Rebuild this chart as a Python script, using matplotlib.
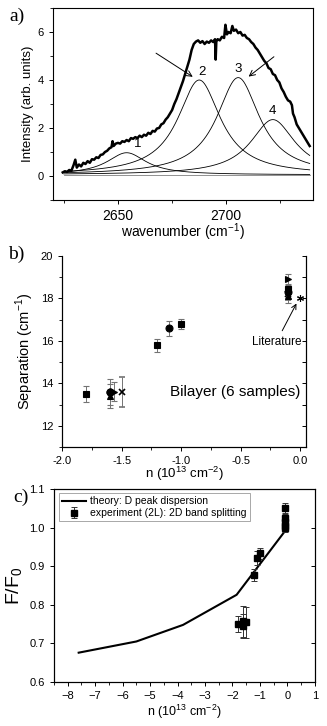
import numpy as np
import matplotlib.pyplot as plt
from matplotlib.ticker import MultipleLocator

plt.rcParams['font.family'] = ['Liberation Sans', 'DejaVu Sans']
plt.rcParams['mathtext.fontset'] = 'custom'
plt.rcParams['mathtext.rm'] = 'Liberation Sans'

wn_spec = [2624.5, 2625.5, 2626.5, 2627.5, 2628.5, 2629.5, 2630.3, 2631.0, 2632.0, 2633.0,
           2634.0, 2635.0, 2636.0, 2637.0, 2638.0, 2639.0, 2640.0, 2641.0, 2642.0, 2643.0,
           2644.0, 2645.0, 2646.0, 2647.0, 2647.5, 2648.0, 2649.0, 2650.0, 2651.0, 2652.0,
           2653.0, 2654.0, 2655.0, 2656.0, 2657.0, 2658.0, 2659.0, 2660.0, 2661.0, 2662.0,
           2663.0, 2664.0, 2665.0, 2666.0, 2667.0, 2668.0, 2669.0, 2670.0, 2671.0, 2672.0,
           2673.0, 2674.0, 2675.0, 2676.0, 2677.0, 2678.0, 2679.0, 2680.0, 2681.0, 2682.0,
           2683.0, 2684.0, 2685.0, 2686.0, 2687.0, 2688.0, 2689.0, 2690.0, 2691.0, 2692.0,
           2693.0, 2694.0, 2694.8, 2695.1, 2695.4, 2696.0, 2697.0, 2698.0, 2699.0, 2699.6,
           2700.3, 2701.0, 2702.0, 2702.8, 2703.5, 2704.5, 2705.5, 2706.5, 2707.5, 2708.5,
           2709.5, 2710.5, 2711.5, 2712.5, 2713.5, 2714.5, 2715.5, 2716.5, 2717.5, 2718.5,
           2719.5, 2720.5, 2721.5, 2722.5, 2723.5, 2724.5, 2725.5, 2726.5, 2727.5, 2728.5,
           2729.5, 2730.3, 2730.8, 2731.5, 2732.5, 2733.5, 2734.5, 2735.5, 2736.5, 2737.5,
           2738.5]
int_spec = [0.15, 0.20, 0.17, 0.25, 0.22, 0.45, 0.68, 0.35, 0.48, 0.40,
            0.55, 0.50, 0.62, 0.55, 0.70, 0.68, 0.78, 0.75, 0.88, 0.90,
            1.00, 1.05, 1.15, 1.20, 1.45, 1.25, 1.35, 1.38, 1.35, 1.45,
            1.42, 1.50, 1.45, 1.58, 1.55, 1.62, 1.58, 1.68, 1.62, 1.72,
            1.68, 1.80, 1.75, 1.88, 1.85, 1.98, 2.00, 2.15, 2.20, 2.35,
            2.45, 2.60, 2.75, 3.00, 3.20, 3.45, 3.70, 3.95, 4.25, 4.55,
            4.85, 5.25, 5.50, 5.60, 5.65, 5.55, 5.62, 5.50, 5.60, 5.55,
            5.65, 5.58, 5.70, 4.85, 5.60, 5.70, 5.65, 5.80, 5.75, 6.30,
            5.90, 6.00, 5.95, 6.25, 6.05, 6.10, 5.95, 6.00, 5.85, 5.88,
            5.75, 5.70, 5.58, 5.50, 5.35, 5.25, 5.10, 4.95, 4.80, 4.70,
            4.50, 4.45, 4.25, 4.20, 4.00, 3.90, 3.65, 3.50, 3.30, 3.15,
            3.10, 2.95, 2.60, 2.45, 2.15, 2.00, 1.85, 1.70, 1.55, 1.40,
            1.25]

# fitted Lorentzian components: centre, height, half width
peak_centre = [2654.0, 2687.5, 2705.5, 2721.5]
peak_height = [0.92, 3.95, 4.05, 2.30]
peak_hwhm = [11.0, 12.0, 12.0, 12.5]
peak_labels = ['1', '2', '3', '4']
fit_offset = 0.05

# --- panel b: 2D band splitting vs doping ---
sep_n = {
    's': [-1.8, -1.2, -1.0, -0.1],
    'o': [-1.6, -1.1, -0.1],
    '^': [-1.6, -0.1],
    '>': [-1.56, -0.1],
    'x': [-1.5, -0.1],
}
sep_val = {
    's': [13.5, 15.8, 16.8, 18.45],
    'o': [13.6, 16.6, 18.3],
    '^': [13.4, 18.1],
    '>': [13.6, 18.9],
    'x': [13.6, 18.2],
}
sep_err = {
    's': [0.37, 0.3, 0.25, 0.25],
    'o': [0.62, 0.35, 0.3],
    '^': [0.55, 0.3],
    '>': [0.45, 0.25],
    'x': [0.7, 0.25],
}
lit_n, lit_sep = 0.0, 18.0

# --- panel c: normalised splitting ---
theory_n = [-7.6, -5.5, -3.8, -1.85, -0.1]
theory_f = [0.676, 0.705, 0.748, 0.826, 0.99]
exp_n = [-1.8, -1.6, -1.6, -1.5, -1.2, -1.1, -1.0, -0.1, -0.1, -0.1, -0.1, -0.1]
exp_f = [0.750, 0.745, 0.757, 0.755, 0.877, 0.922, 0.933, 1.050, 1.025, 1.015, 1.005, 1.000]
exp_err = [0.020, 0.030, 0.040, 0.040, 0.015, 0.018, 0.015, 0.015, 0.012, 0.012, 0.012, 0.012]

fig = plt.figure(figsize=(3.27, 7.26), dpi=100)
ax1 = fig.add_axes([0.162, 0.7245, 0.795, 0.2645])
ax2 = fig.add_axes([0.190, 0.3843, 0.746, 0.263])
ax3 = fig.add_axes([0.165, 0.0606, 0.798, 0.2658])

for ax in (ax1, ax2, ax3):
    ax.tick_params(labelsize=8, direction='out', length=3, width=0.7)
    ax.tick_params(which='minor', direction='out', length=2, width=0.6)
    for sp in ax.spines.values():
        sp.set_linewidth(0.8)

# panel a
wgrid = np.linspace(2625, 2738.5, 400)
for c, h, g in zip(peak_centre, peak_height, peak_hwhm):
    ax1.plot(wgrid, fit_offset + h / (1 + ((wgrid - c) / g) ** 2), color='k', lw=0.6)
ax1.plot(wgrid, np.full_like(wgrid, fit_offset), color='0.5', lw=0.6)
ax1.plot(wn_spec, int_spec, color='k', lw=1.8)
for c, h, lab in zip(peak_centre, peak_height, peak_labels):
    dx = 5 if lab == '1' else (1.5 if lab == '2' else 0)
    ax1.text(c + dx, fit_offset + h + 0.1, lab, ha='center', va='bottom', fontsize=9.5)
ax1.annotate('', xy=(2685.6, 4.07), xytext=(2666.5, 5.18),
             arrowprops=dict(arrowstyle='->', color='k', lw=0.7))
ax1.annotate('', xy=(2709.3, 4.07), xytext=(2723.0, 5.04),
             arrowprops=dict(arrowstyle='->', color='k', lw=0.7))
ax1.set_xlim(2620, 2740)
ax1.set_ylim(-1, 7)
ax1.xaxis.set_major_locator(MultipleLocator(50))
ax1.xaxis.set_minor_locator(MultipleLocator(25))
ax1.yaxis.set_major_locator(MultipleLocator(2))
ax1.yaxis.set_minor_locator(MultipleLocator(1))
ax1.tick_params(labelsize=10, axis='x')
ax1.set_xlabel('wavenumber (cm$^{-1}$)', fontsize=10, labelpad=-1)
ax1.set_ylabel('Intensity (arb. units)', fontsize=9.5, labelpad=3)

# panel b
for m in sep_n:
    ax2.errorbar(sep_n[m], sep_val[m], yerr=sep_err[m], fmt=m, color='k',
                 mfc='k', ms=5, ecolor='0.45', elinewidth=0.7, capsize=2,
                 capthick=0.7, mew=1.2 if m == 'x' else 0.8)
ax2.plot([-1.6], [13.6], 'o', mfc='white', mec='k', ms=5, mew=0.8)
ax2.plot([lit_n], [lit_sep], marker=(6, 2, 0), color='k', ms=5, mew=0.8, ls='none')
ax2.annotate('Literature', xy=(lit_n - 0.02, lit_sep - 0.12), xytext=(-0.2, 15.95),
             ha='center', va='center', fontsize=8.5,
             arrowprops=dict(arrowstyle='->', color='k', lw=0.7, shrinkA=2))
ax2.text(0.0, 13.6, 'Bilayer (6 samples)', ha='right', va='center', fontsize=11)
ax2.set_xlim(-2.0, 0.05)
ax2.set_ylim(11, 20)
ax2.xaxis.set_major_locator(MultipleLocator(0.5))
ax2.xaxis.set_minor_locator(MultipleLocator(0.25))
ax2.yaxis.set_major_locator(MultipleLocator(2))
ax2.yaxis.set_minor_locator(MultipleLocator(1))
ax2.xaxis.set_major_formatter(plt.FormatStrFormatter('%.1f'))
ax2.spines['top'].set_visible(False)
ax2.set_xlabel('n (10$^{13}$ cm$^{-2}$)', fontsize=9.5, labelpad=-1)
ax2.set_ylabel('Separation (cm$^{-1}$)', fontsize=10.5, labelpad=3)
ax2r = ax2.twinx()
ax2r.set_ylim(ax2.get_ylim())
ax2r.yaxis.set_major_locator(MultipleLocator(1))
ax2r.tick_params(direction='in', length=3, width=0.7, labelright=False)
ax2r.spines['top'].set_visible(False)

# panel c
ax3.plot(theory_n, theory_f, color='k', lw=1.5, label='theory: D peak dispersion')
ax3.errorbar(exp_n, exp_f, yerr=exp_err, fmt='s', color='k', ms=4.5,
             ecolor='0.2', elinewidth=0.7, capsize=2, capthick=0.7,
             label='experiment (2L): 2D band splitting')
leg = ax3.legend(loc='upper left', fontsize=7.5, frameon=True, fancybox=False,
                 edgecolor='0.5', borderpad=0.3, handlelength=2.3, handletextpad=0.4,
                 labelspacing=0.2, bbox_to_anchor=(0.01, 0.99), borderaxespad=0.2)
leg.get_frame().set_linewidth(0.6)
ax3.set_xlim(-8.5, 1)
ax3.set_ylim(0.6, 1.1)
ax3.xaxis.set_major_locator(MultipleLocator(1))
ax3.xaxis.set_minor_locator(MultipleLocator(0.5))
ax3.yaxis.set_major_locator(MultipleLocator(0.1))
ax3.yaxis.set_major_formatter(plt.FormatStrFormatter('%.1f'))
ax3.set_xlabel('n (10$^{13}$ cm$^{-2}$)', fontsize=9, labelpad=1)
ax3.set_ylabel('F/F$_0$', fontsize=14, labelpad=3)
ax3r = ax3.twinx()
ax3r.set_ylim(ax3.get_ylim())
ax3r.yaxis.set_major_locator(MultipleLocator(0.1))
ax3r.tick_params(direction='in', length=3, width=0.7, labelright=False)

serif = ['Liberation Serif', 'DejaVu Serif']
fig.text(0.03, 0.978, 'a)', fontsize=14, family=serif, va='center')
fig.text(0.025, 0.649, 'b)', fontsize=14, family=serif, va='center')
fig.text(0.04, 0.315, 'c)', fontsize=14, family=serif, va='center')

fig.savefig('out.png', dpi=100)
